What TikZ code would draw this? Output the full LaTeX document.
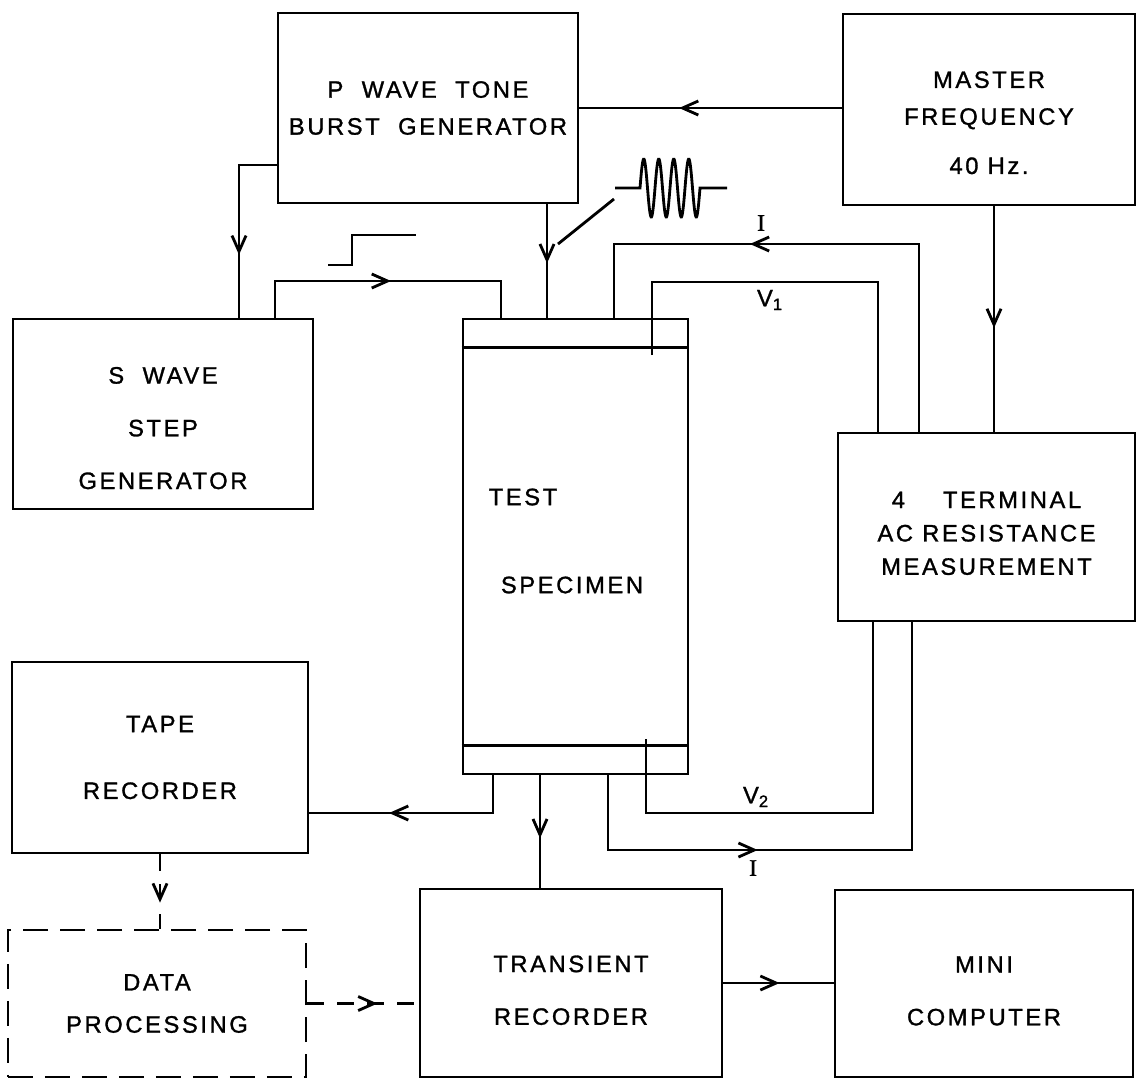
\documentclass[tikz,border=0pt]{standalone}
\usepackage{fontspec}
\setmainfont{Liberation Sans}[LetterSpace=11, FakeBold=1.2]
\newfontfamily\serifI{Liberation Serif}[FakeBold=1.2]
\usetikzlibrary{arrows.meta, decorations.markings}
\newcommand{\boxfont}{\fontsize{13.5}{21}\selectfont}

\begin{document}
\begin{tikzpicture}[
  x=0.02cm, y=-0.02cm,
  line width=1.6pt,
  box/.style     = {rectangle, draw, inner sep=0pt, align=center, font=\boxfont},
  dbox/.style    = {box, dash pattern=on 0.5cm off 0.24cm},
  wh/.style 2 args = {minimum width=#1*0.02cm, minimum height=#2*0.02cm},
  dwire/.style   = {dash pattern=on 0.34cm off 0.26cm},
  midtip/.style  = {postaction={decorate}, decoration={markings,
                    mark=at position #1 with {\pgfsetdash{}{0pt}\arrow{Straight Barb[length=9pt, width=8pt]}}}},
  lbl/.style     = {font=\boxfont, inner sep=0pt},
]
  \useasboundingbox (0,0) rectangle (1138,1080);

  % Generators
  \node[box, wh={300}{190}] (pgen) at (428,108) {P\ \ WAVE\ \ TONE\\BURST\ \ GENERATOR};
  \node[box, wh={292}{191}] (mfreq) at (989,109.5) {\rule{0pt}{24.5pt}MASTER\\FREQUENCY\\[7pt]40 Hz.};
  \node[box, wh={300}{190}] (sgen) at (163,414) {\rule{0pt}{25.5pt}S\ \ WAVE\\[9pt]STEP\\[9pt]GENERATOR};

  % Specimen
  \node[box, wh={225}{455}] (spec) at (575.5,546.5) {};
  \draw (spec.north west) ++(0,30) -- ++(225,0);
  \draw (spec.south west) ++(0,-30) -- ++(225,0);
  \node[lbl] (testlbl) at (523,497) {TEST};
  \node[lbl] (speclbl) at (572,585) {SPECIMEN};

  % Measurement
  \node[box, wh={297}{188}] (meas) at (986.5,527) {\rule{0pt}{16.5pt}4\hspace{1.6em}TERMINAL\\[-2pt]AC RESISTANCE\\[-2pt]MEASUREMENT};

  % Recording
  \node[box, wh={296}{191}] (tape) at (160,757.5) {TAPE\\[17pt]RECORDER};
  \node[dbox, wh={298}{147}] (data) at (157,1003.5) {DATA\\[3pt]PROCESSING};
  \node[box, wh={302}{188}] (trans) at (571,983) {\rule{0pt}{17.7pt}TRANSIENT\\[9pt]RECORDER};
  \node[box, wh={298}{187}] (mini) at (984,983.5) {\rule{0pt}{17.7pt}MINI\\[9pt]COMPUTER};

  % Bends
  \coordinate (ps)  at (239,165);
  \coordinate (ss1) at (275,281);
  \coordinate (ss2) at (501,281);
  \coordinate (pp)  at (547,250);
  \coordinate (mm)  at (994,320);
  \coordinate (it1) at (919,244);
  \coordinate (it2) at (614,244);
  \coordinate (v1e) at (652,355);
  \coordinate (v1a) at (652,282);
  \coordinate (v1b) at (878,282);
  \coordinate (v2e) at (646,739);
  \coordinate (v2a) at (646,813);
  \coordinate (v2b) at (873,813);
  \coordinate (ib1) at (608,850);
  \coordinate (ib2) at (912,850);
  \coordinate (tw)  at (493,813);
  \coordinate (tr)  at (540,830);

  % Excitation
  \draw[midtip=0.62] (mfreq.west |- pgen.east) -- (pgen.east);
  \draw[midtip=0.67] (ps -| pgen.west) -- (ps) -- (ps |- sgen.north);
  \draw[midtip=0.51] (ss1 |- sgen.north) -- (ss1) -- (ss2) -- (ss2 |- spec.north);
  \draw[midtip=0.52] (pp |- pgen.south) -- (pp |- spec.north);
  \draw[midtip=0.54] (mm |- mfreq.south) -- (mm |- meas.north);

  % Waveforms
  \draw (328,265) -- (352,265) -- (352,235) -- (416,235);
  \draw (558,244) -- (614,199);
  \draw (615,188) -- (640,188) -- plot[domain=0:60, samples=121, smooth] ({640+\x}, {188-29*sin(24*\x)}) -- (727,188);

  % Four terminal leads
  \draw[midtip=0.63] (it1 |- meas.north) -- (it1) -- (it2) -- (it2 |- spec.north);
  \draw (v1e) -- (v1a) -- (v1b) -- (v1b |- meas.north);
  \draw (v2e) -- (v2a) -- (v2b) -- (v2b |- meas.south);
  \draw[midtip=0.37] (ib1 |- spec.south) -- (ib1) -- (ib2) -- (ib2 |- meas.south);
  \node[lbl] (itop) at (761,223) {\serifI I};
  \node[lbl] (vone) at (770,300) {V\textsubscript{1}};
  \node[lbl] (vtwo) at (756,797) {V\textsubscript{2}};
  \node[lbl] (ibot) at (753,868) {\serifI I};

  % Outputs
  \draw[midtip=0.64] (tw |- spec.south) -- (tw) -- (tw -| tape.east);
  \draw[midtip=0.56] (tr |- spec.south) -- (tr |- trans.north);
  \draw[dwire, midtip=0.65] (tape.south) -- (tape.south |- data.north);
  \draw[dwire, midtip=0.63] (data.east) -- (data.east -| trans.west);
  \draw[midtip=0.51] (trans.east) -- (trans.east -| mini.west);
\end{tikzpicture}
\end{document}
